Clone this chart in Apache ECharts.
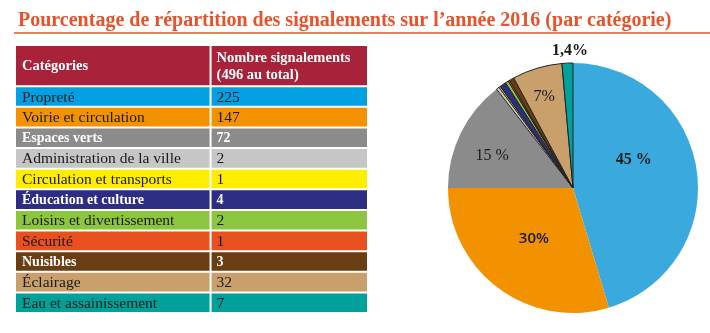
<!DOCTYPE html>
<html>
<head>
<meta charset="utf-8">
<script src="https://cdn.jsdelivr.net/npm/echarts@6/dist/echarts.min.js"></script>
<style>
  html, body { margin: 0; padding: 0; background: #fff; }
  #chart { width: 710px; height: 333px; }
</style>
</head>
<body>
<div id="chart"></div>
<script>
// ---- data ----
const titleText = 'Pourcentage de répartition des signalements sur l\u2019année 2016 (par catégorie)';
const categories = ['Propreté', 'Voirie et circulation', 'Espaces verts', 'Administration de la ville',
  'Circulation et transports', 'Éducation et culture', 'Loisirs et divertissement', 'Sécurité',
  'Nuisibles', 'Éclairage', 'Eau et assainissement'];
const counts = [225, 147, 72, 2, 1, 4, 2, 1, 3, 32, 7];
const headerLabels = ['Catégories', 'Nombre signalements\n(496 au total)'];
const pieLabels = ['45 %', '30%', '15 %', '', '', '', '', '', '', '7%', '1,4%'];

// ---- styles ----
const rowColors = ['#00a0e3', '#f39200', '#8b8b8b', '#c6c6c6', '#ffed00', '#2d2e83', '#8cc63f',
  '#e9501f', '#6a3d12', '#c99f6b', '#00a19a'];
const pieColors = ['#3aa9de', '#f39200', '#8b8b8b', '#c6c6c6', '#ffed00', '#2d2e83', '#8cc63f',
  '#e9501f', '#6a3d12', '#c99f6b', '#00a19a'];
const whiteTextRows = [2, 5, 8];
const headerColor = '#a8223a';
const titleColor = '#e8522a';
const colSplit = 0.554;
const labelNudge = [[-4, -19], [0, -2], [-22, -3], [0, 0], [0, 0], [0, 0], [0, 0], [0, 0], [0, 0], [-10, -28], [0, -72]];
const labelFonts = [
  { fontFamily: 'Liberation Serif', fontWeight: 'bold', fontSize: 16 },
  { fontFamily: 'Open Sans', fontWeight: '600', fontSize: 15 },
  { fontFamily: 'Liberation Serif', fontWeight: 'normal', fontSize: 16 },
  {}, {}, {}, {}, {}, {},
  { fontFamily: 'Liberation Serif', fontWeight: 'normal', fontSize: 16 },
  { fontFamily: 'Liberation Serif', fontWeight: 'bold', fontSize: 16 }
];

// table rows: [yStart, yEnd, col1, col2, rowIndex]
const tableData = [[0, 2, headerLabels[0], headerLabels[1], -1]];
categories.forEach((c, i) => tableData.push([2 + i, 3 + i, c, String(counts[i]), i]));

const chart = echarts.init(document.getElementById('chart'), null, { renderer: 'canvas' });

chart.setOption({
  animation: false,
  backgroundColor: '#fff',
  title: {
    text: titleText,
    left: 13, top: 6,
    textStyle: { fontFamily: 'Liberation Serif', fontWeight: 'bold', fontSize: 20, color: titleColor }
  },
  graphic: [{
    type: 'line', shape: { x1: 14, y1: 33, x2: 710, y2: 33 },
    style: { stroke: titleColor, lineWidth: 1.5 }
  }],
  grid: { left: 15, top: 45, width: 353, height: 268 },
  xAxis: { type: 'value', min: 0, max: 1, show: false },
  yAxis: { type: 'value', min: 0, max: 13, inverse: true, show: false },
  series: [{
    type: 'custom',
    clip: false,
    silent: true,
    data: tableData,
    encode: { x: -1, y: [0, 1] },
    renderItem: function (params, api) {
      const d = tableData[params.dataIndex];
      const idx = d[4];
      const pA = api.coord([0, api.value(0)]);
      const pB = api.coord([colSplit, api.value(1)]);
      const pC = api.coord([1, api.value(1)]);
      const fill = idx < 0 ? headerColor : rowColors[idx];
      const isWhite = idx < 0 || whiteTextRows.indexOf(idx) >= 0;
      const txtCol = isWhite ? '#ffffff' : '#1a1a1a';
      const font = {
        fontFamily: 'Liberation Serif',
        fontSize: idx < 0 ? 14.5 : (isWhite ? 14 : 15.5),
        fontWeight: isWhite ? 'bold' : 'normal'
      };
      const cy = (pA[1] + pB[1]) / 2;
      return {
        type: 'group',
        children: [
          { type: 'rect', shape: { x: pA[0] + 1, y: pA[1] + 1, width: pB[0] - pA[0] - 2, height: pB[1] - pA[1] - 2 }, style: { fill: fill } },
          { type: 'rect', shape: { x: pB[0] + 1, y: pA[1] + 1, width: pC[0] - pB[0] - 2, height: pB[1] - pA[1] - 2 }, style: { fill: fill } },
          { type: 'text', x: pA[0] + 7, y: cy + 1, style: Object.assign({ text: d[2], fill: txtCol, verticalAlign: 'middle', align: 'left' }, font) },
          { type: 'text', x: pB[0] + 6, y: cy + 1, style: Object.assign({ text: d[3], fill: txtCol, verticalAlign: 'middle', align: 'left', lineHeight: 17 }, font) }
        ]
      };
    }
  }, {
    type: 'pie',
    center: [573, 188],
    radius: 125,
    startAngle: 90,
    clockwise: true,
    silent: true,
    avoidLabelOverlap: false,
    labelLine: { show: false },
    label: {
      show: true, position: 'inside', color: '#1a1a1a',
      formatter: p => pieLabels[p.dataIndex]
    },
    labelLayout: function (params) {
      const n = labelNudge[params.dataIndex];
      return { dx: n[0], dy: n[1] };
    },
    data: counts.map((v, i) => ({
      name: categories[i],
      value: v,
      itemStyle: {
        color: pieColors[i],
        borderColor: i >= 3 ? '#222' : pieColors[i],
        borderWidth: i >= 3 ? 1 : 0
      },
      label: Object.assign({}, labelFonts[i])
    }))
  }]
});
</script>
</body>
</html>
